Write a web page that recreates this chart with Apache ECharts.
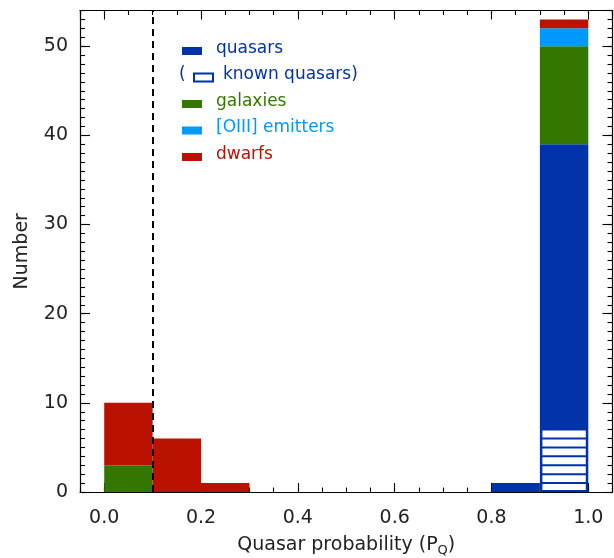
<!DOCTYPE html>
<html>
<head>
<meta charset="utf-8">
<title>Quasar probability</title>
<script src="https://cdn.jsdelivr.net/npm/echarts@6/dist/echarts.min.js"></script>
<style>
  html, body { margin: 0; padding: 0; background: #fff; }
</style>
</head>
<body>
<div id="main" style="width: 614px; height: 558px;"></div>
<script type="text/javascript">
// histogram bins (lower edges), width 0.1
var binLo = [0.0, 0.1, 0.2, 0.3, 0.4, 0.5, 0.6, 0.7, 0.8, 0.9];
var binWidth = 0.1;

// counts per bin, stacked in this order
var quasars  = [0, 0, 0, 0, 0, 0, 0, 0, 1, 39];
var galaxies = [3, 0, 0, 0, 0, 0, 0, 0, 0, 11];
var oiii     = [0, 0, 0, 0, 0, 0, 0, 0, 0, 2];
var dwarfs   = [7, 6, 1, 0, 0, 0, 0, 0, 0, 1];
var knownQuasars = [0, 0, 0, 0, 0, 0, 0, 0, 0, 7];

var xTicks = [0.0, 0.2, 0.4, 0.6, 0.8, 1.0];
var yTicks = [0, 10, 20, 30, 40, 50];
var cutLine = 0.1;

var legendNames = ['quasars', 'known quasars', 'galaxies', '[OIII] emitters', 'dwarfs'];

var cBlue = '#0033aa', cGreen = '#337700', cCyan = '#0099ff', cRed = '#bb1100';

var myChart = echarts.init(document.getElementById('main'));

// build stacked [lo, hi, base, top] rows
var running = binLo.map(function () { return 0; });
function stackRows(vals) {
    var rows = [];
    for (var i = 0; i < vals.length; i++) {
        if (vals[i] > 0) {
            rows.push([binLo[i], binLo[i] + binWidth, running[i], running[i] + vals[i]]);
        }
        running[i] += vals[i];
    }
    return rows;
}
var qRows = stackRows(quasars);
var gRows = stackRows(galaxies);
var oRows = stackRows(oiii);
var dRows = stackRows(dwarfs);
var kRows = [];
for (var i = 0; i < knownQuasars.length; i++) {
    if (knownQuasars[i] > 0) kRows.push([binLo[i], binLo[i] + binWidth, knownQuasars[i]]);
}

function renderBar(params, api) {
    var a = api.coord([api.value(0), api.value(3)]);
    var b = api.coord([api.value(1), api.value(2)]);
    return {
        type: 'rect',
        shape: { x: a[0], y: a[1], width: b[0] - a[0], height: b[1] - a[1] },
        style: { fill: api.visual('color') }
    };
}

function renderKnown(params, api) {
    var x0 = api.value(0), x1 = api.value(1), n = api.value(2);
    var a = api.coord([x0, n]);
    var b = api.coord([x1, 0]);
    var kids = [{
        type: 'rect',
        shape: { x: a[0] + 1.5, y: a[1], width: b[0] - a[0] - 3, height: b[1] - a[1] - 1 },
        style: { fill: '#fff', stroke: cBlue, lineWidth: 2 }
    }];
    for (var k = 1; k < n; k++) {
        var y = api.coord([x0, k])[1];
        kids.push({
            type: 'line',
            shape: { x1: a[0] + 1.5, y1: y, x2: b[0] - 1.5, y2: y },
            style: { stroke: cBlue, lineWidth: 2 }
        });
    }
    return { type: 'group', children: kids };
}

function barSeries(name, rows, color) {
    return {
        name: name,
        type: 'custom',
        renderItem: renderBar,
        itemStyle: { color: color },
        encode: { x: [0, 1], y: [2, 3] },
        data: rows,
        z: 2
    };
}

var axisCol = '#000';
var fontFam = 'DejaVu Sans';

function xAx(pos, major, labels) {
    var o = {
        type: 'value',
        position: pos,
        min: -0.05,
        max: 1.05,
        splitLine: { show: false },
        axisLine: { show: true, onZero: false, lineStyle: { color: major ? axisCol : 'rgba(0,0,0,0)', width: 1.2 } },
        axisTick: { show: true, inside: true, length: major ? 9 : 4.5, lineStyle: { color: axisCol, width: 1.1 } },
        axisLabel: { show: false }
    };
    if (major) {
        o.axisLabel = {
            show: labels,
            showMinLabel: false,
            showMaxLabel: false,
            margin: 17,
            color: '#222',
            fontFamily: fontFam,
            fontSize: 19,
            formatter: function (v) {
                for (var j = 0; j < xTicks.length; j++) {
                    if (Math.abs(v - xTicks[j]) < 1e-6) return xTicks[j].toFixed(1);
                }
                return '';
            }
        };
    } else {
        o.interval = 0.05;
    }
    return o;
}

function yAx(pos, major, labels) {
    var o = {
        type: 'value',
        position: pos,
        min: 0,
        max: 54,
        interval: major ? 10 : 1,
        splitLine: { show: false },
        axisLine: { show: true, onZero: false, lineStyle: { color: major ? axisCol : 'rgba(0,0,0,0)', width: 1.2 } },
        axisTick: { show: true, inside: true, length: major ? 10 : 5, lineStyle: { color: axisCol, width: 1.1 } },
        axisLabel: { show: false }
    };
    if (major && labels) {
        o.axisLabel = {
            show: true,
            showMaxLabel: false,
            margin: 12,
            color: '#222',
            fontFamily: fontFam,
            fontSize: 19,
            formatter: function (v) { return yTicks.indexOf(v) >= 0 ? String(v) : ''; }
        };
    }
    return o;
}

var xBottom = xAx('bottom', true, true);
xBottom.name = 'Quasar probability (P{sub|Q})';
xBottom.nameLocation = 'middle';
xBottom.nameGap = 42;
xBottom.nameTextStyle = {
    color: '#222', fontFamily: fontFam, fontSize: 19,
    rich: { sub: { fontFamily: fontFam, fontSize: 13, color: '#222', padding: [10, 0, 0, 0] } }
};

var yLeft = yAx('left', true, true);
yLeft.name = 'Number';
yLeft.nameLocation = 'middle';
yLeft.nameGap = 48;
yLeft.nameTextStyle = { color: '#222', fontFamily: fontFam, fontSize: 19 };

// legend drawn top-left inside the frame
var legX = 182, legY = 51, legStep = 26.5;
var legColors = [cBlue, cBlue, cGreen, cCyan, cRed];
var legFont = '17px "DejaVu Sans"';
var legend = [];
legendNames.forEach(function (nm, idx) {
    var cy = legY + idx * legStep;
    var col = legColors[idx];
    if (nm === 'known quasars') {
        legend.push({ type: 'text', left: legX - 3, top: cy - 11, style: { text: '(', fill: col, font: legFont } });
        legend.push({ type: 'rect', shape: { x: legX + 12, y: cy - 4, width: 19, height: 8 },
            style: { fill: '#fff', stroke: col, lineWidth: 2 } });
        legend.push({ type: 'text', left: legX + 41, top: cy - 11, style: { text: nm + ')', fill: col, font: legFont } });
    } else {
        legend.push({ type: 'rect', shape: { x: legX, y: cy - 4, width: 20, height: 8 }, style: { fill: col } });
        legend.push({ type: 'text', left: legX + 34, top: cy - 11, style: { text: nm, fill: col, font: legFont } });
    }
});

var option = {
    animation: false,
    backgroundColor: '#fff',
    grid: { left: 80, right: 1.5, top: 10.5, bottom: 66, outerBoundsMode: 'none' },
    xAxis: [xBottom, xAx('top', true, false), xAx('bottom', false, false), xAx('top', false, false)],
    yAxis: [yLeft, yAx('right', true, false), yAx('left', false, false), yAx('right', false, false)],
    graphic: legend,
    series: [
        barSeries('quasars', qRows, cBlue),
        barSeries('galaxies', gRows, cGreen),
        barSeries('[OIII] emitters', oRows, cCyan),
        barSeries('dwarfs', dRows, cRed),
        {
            name: 'known quasars',
            type: 'custom',
            renderItem: renderKnown,
            encode: { x: [0, 1], y: [2] },
            data: kRows,
            z: 3,
            markLine: {
                silent: true,
                symbol: 'none',
                label: { show: false },
                lineStyle: { color: '#000', width: 2, type: [7, 5] },
                data: [{ xAxis: cutLine }]
            }
        }
    ]
};

myChart.setOption(option);
</script>
</body>
</html>
